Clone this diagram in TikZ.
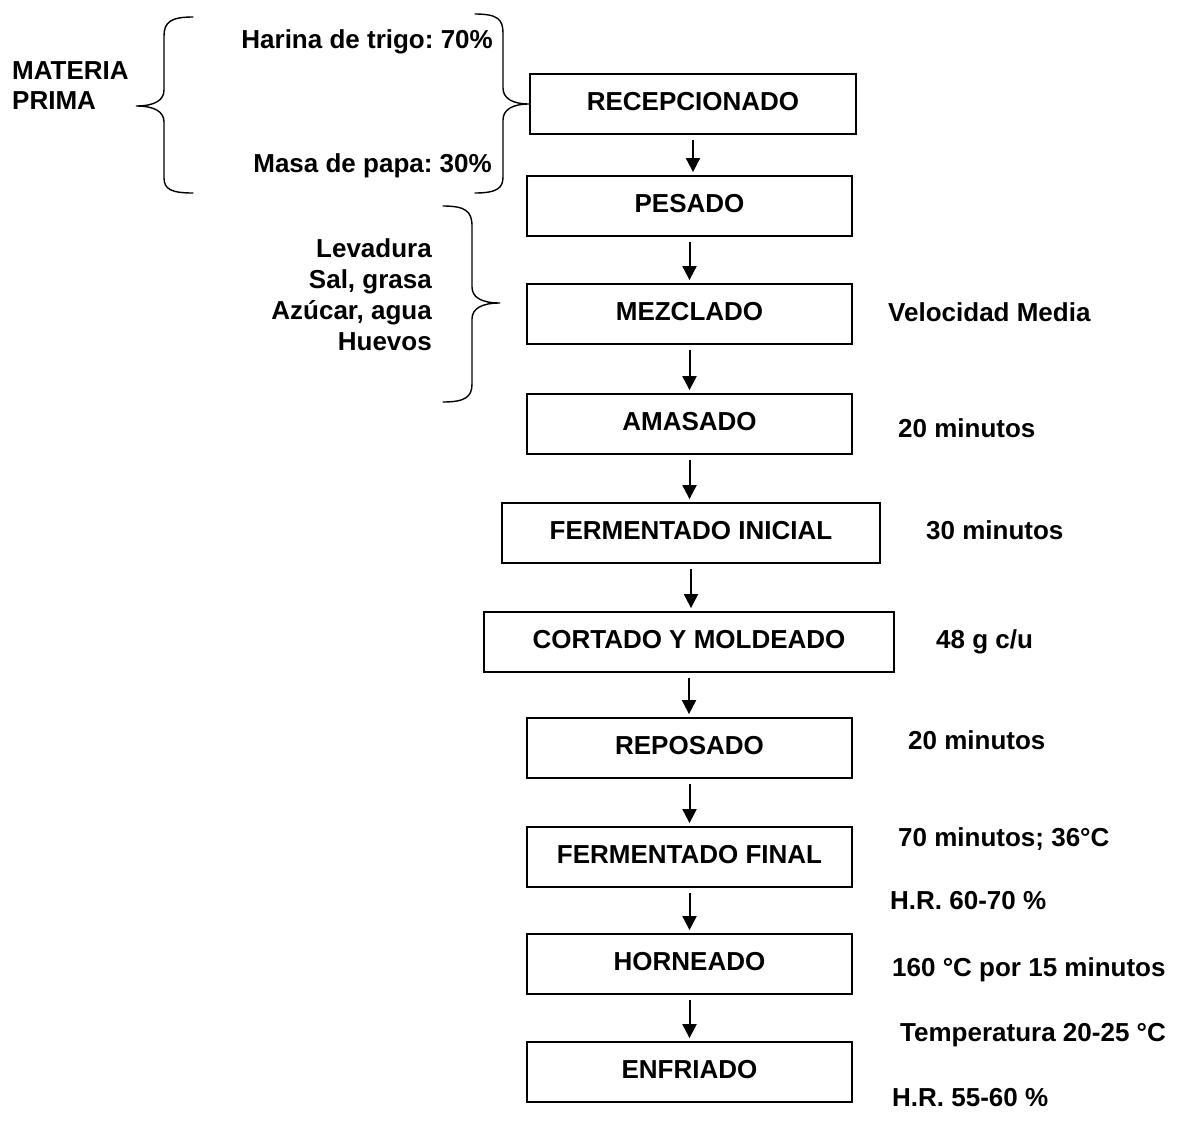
\documentclass[tikz,border=0pt]{standalone}
\usepackage{fontspec}
\setmainfont{Liberation Sans}
\usetikzlibrary{arrows.meta}
\newcommand{\flowfont}{\fontsize{26}{31}\selectfont\bfseries\frenchspacing}

\begin{document}
\begin{tikzpicture}[x=1pt, y=-1pt,
  stage/.style={draw=black, line width=1.8pt, minimum height=60pt, inner sep=0pt,
    text height=18.6pt, text depth=6pt, font=\flowfont},
  note/.style={inner sep=0pt, text height=18.6pt, text depth=0pt, font=\flowfont},
  flow/.style={-{Triangle[length=14pt, width=14pt]}, line width=2pt, shorten <=5pt, shorten >=3pt},
  brace/.style={line width=1.4pt, line cap=round},
]
\useasboundingbox (0,0) rectangle (1182,1124);

% ---------- process stages ----------
\foreach \nm/\xc/\yc/\w/\txt in {%
  rec/693/104/326/RECEPCIONADO,
  pes/689.5/206/325/PESADO,
  mez/689.5/314/325/MEZCLADO,
  ama/689.5/424/325/AMASADO,
  fin/691/533/378/FERMENTADO INICIAL,
  cor/689/642/410/CORTADO Y MOLDEADO,
  rep/689.5/748/325/REPOSADO,
  ffi/689.5/857/325/FERMENTADO FINAL,
  hor/689.5/964/325/HORNEADO,
  enf/689.5/1072/325/ENFRIADO%
} {
  \node[stage, minimum width=\w pt] (\nm) at (\xc,\yc) {\txt};
}
\foreach \a/\b in {rec/pes, pes/mez, mez/ama, ama/fin, fin/cor, cor/rep, rep/ffi, ffi/hor, hor/enf} {
  \draw[flow] (\a.south) -- (\a.south |- \b.north);
}

% ---------- conditions (right) ----------
\foreach \nm/\xl/\yc/\txt in {%
  vel/888/312/Velocidad Media,
  tama/898/428/20 minutos,
  tfin/926/530/30 minutos,
  peso/936/639/{48 g c/u},
  trep/908/740/20 minutos,
  tffi/898/837/70 minutos; 36°C,
  hrf/890/900/H.R. 60-70 \%,
  horno/892/967/160 °C por 15 minutos,
  temp/900/1032/Temperatura 20-25 °C,
  hre/892/1097/H.R. 55-60 \%%
} {
  \node[note, anchor=west] (\nm) at (\xl,\yc) {\txt};
}

% ---------- raw material (left) ----------
\node[inner sep=0pt, anchor=north west, align=left, font=\fontsize{26}{30}\selectfont\bfseries] (mp) at (12,61.7) {MATERIA\\PRIMA};
\node[note, anchor=east] (har) at (493,39) {Harina de trigo: 70\%};
\node[note, anchor=east] (mas) at (492,163) {Masa de papa: 30\%};
\node[inner sep=0pt, anchor=north east, align=right, font=\flowfont] (ins) at (432,238.7) {Levadura\\Sal, grasa\\Azúcar, agua\\Huevos};

% braces
\draw[brace] (193,17) .. controls (171,17) and (164,22) .. (164,36) -- (164,90)
  .. controls (164,100) and (155,106) .. (136,106)
  .. controls (155,106) and (164,112) .. (164,122) -- (164,178)
  .. controls (164,189) and (171,193) .. (193,193);
\draw[brace] (475,14) .. controls (497,14) and (503,19) .. (503,33) -- (503,88)
  .. controls (503,98) and (512,104) .. (rec.west)
  .. controls (512,104) and (503,110) .. (503,120) -- (503,177)
  .. controls (503,188) and (497,193) .. (475,193);
\draw[brace] (443,206) .. controls (465,206) and (472,211) .. (472,226) -- (472,287)
  .. controls (472,297) and (481,303) .. (500,303)
  .. controls (481,303) and (472,309) .. (472,319) -- (472,384)
  .. controls (472,397) and (465,402) .. (443,402);
\end{tikzpicture}
\end{document}
